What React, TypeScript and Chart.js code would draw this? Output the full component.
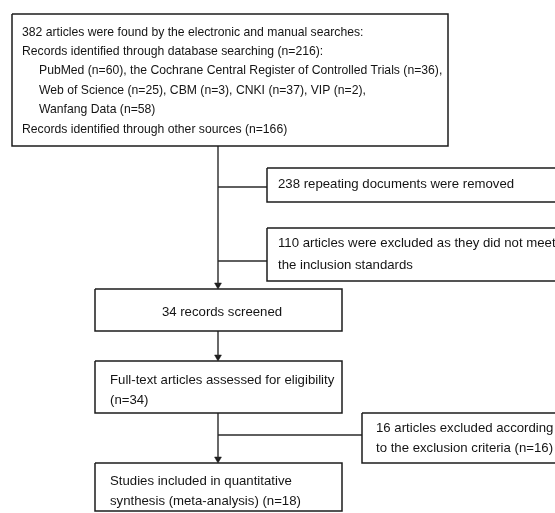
import { useEffect, useRef } from 'react';
import { Chart, registerables } from 'chart.js';

Chart.register(...registerables);

// ---- data (counts and labels) ----
const databases = [
  'PubMed',
  'the Cochrane Central Register of Controlled Trials',
  'Web of Science',
  'CBM',
  'CNKI',
  'VIP',
  'Wanfang Data',
];
const databaseCounts = [60, 36, 25, 3, 37, 2, 58];
const databaseLineGroups = [[0, 1], [2, 3, 4, 5], [6]];

const totalFound = 382;
const databaseTotal = 216;
const otherSources = 166;
const duplicatesRemoved = 238;
const notMeetingStandards = 110;
const screened = 34;
const fullText = 34;
const excludedByCriteria = 16;
const included = 18;

// ---- diagram layout (diagram units == pixels of a 555x513 sheet) ----
const SHEET_W = 555;
const SHEET_H = 513;
const TRUNK_X = 218;
// boxes: [x0, y0, x1, y1]
const boxSearch = [12, 14, 448, 146];
const boxDuplicates = [267, 168, 565, 202];
const boxStandards = [267, 228, 565, 281];
const boxScreened = [95, 289, 342, 331];
const boxFullText = [95, 361, 342, 413];
const boxCriteria = [362, 413, 565, 463];
const boxIncluded = [95, 463, 342, 511];

const LINE_COLOR = '#1c1c1c';
const CONNECTOR_COLOR = '#2a2a2a';
const TEXT_COLOR = '#141414';
const FONT_SMALL = '12.2px "Liberation Sans", Arial, sans-serif';
const FONT_LARGE = '13.2px "Liberation Sans", Arial, sans-serif';
const ARROW_R = 4;

function rectPoints(b: number[]) {
  return [
    { x: b[0], y: b[1] },
    { x: b[2], y: b[1] },
    { x: b[2], y: b[3] },
    { x: b[0], y: b[3] },
    { x: b[0], y: b[1] },
  ];
}

function dbLine(group: number[], last: boolean) {
  const s = group.map((i) => `${databases[i]} (n=${databaseCounts[i]})`).join(', ');
  return last ? s : s + ',';
}

type TextItem = { x: number; y: number; text: string; align: CanvasTextAlign; font: string };

const texts: TextItem[] = [
  { x: 22, y: 32.5, text: `${totalFound} articles were found by the electronic and manual searches:`, align: 'left', font: FONT_SMALL },
  { x: 22, y: 51.8, text: `Records identified through database searching (n=${databaseTotal}):`, align: 'left', font: FONT_SMALL },
  ...databaseLineGroups.map((g, i) => ({
    x: 39,
    y: 71.1 + i * 19.3,
    text: dbLine(g, i === databaseLineGroups.length - 1),
    align: 'left' as CanvasTextAlign,
    font: FONT_SMALL,
  })),
  { x: 22, y: 129.5, text: `Records identified through other sources (n=${otherSources})`, align: 'left', font: FONT_SMALL },
  { x: 278, y: 184.5, text: `${duplicatesRemoved} repeating documents were removed`, align: 'left', font: FONT_LARGE },
  { x: 278, y: 243.5, text: `${notMeetingStandards} articles were excluded as they did not meet`, align: 'left', font: FONT_LARGE },
  { x: 278, y: 265, text: 'the inclusion standards', align: 'left', font: FONT_LARGE },
  { x: 222, y: 312, text: `${screened} records screened`, align: 'center', font: FONT_LARGE },
  { x: 110, y: 380.5, text: 'Full-text articles assessed for eligibility', align: 'left', font: FONT_LARGE },
  { x: 110, y: 400.5, text: `(n=${fullText})`, align: 'left', font: FONT_LARGE },
  { x: 376, y: 428.5, text: `${excludedByCriteria} articles excluded according`, align: 'left', font: FONT_LARGE },
  { x: 376, y: 448.5, text: `to the exclusion criteria (n=${excludedByCriteria})`, align: 'left', font: FONT_LARGE },
  { x: 110, y: 481, text: 'Studies included in quantitative', align: 'left', font: FONT_LARGE },
  { x: 110, y: 501.5, text: `synthesis (meta-analysis) (n=${included})`, align: 'left', font: FONT_LARGE },
];

const connectors = [
  [{ x: TRUNK_X, y: boxSearch[3] }, { x: TRUNK_X, y: boxScreened[1] - ARROW_R }],
  [{ x: TRUNK_X, y: 187 }, { x: boxDuplicates[0], y: 187 }],
  [{ x: TRUNK_X, y: 261 }, { x: boxStandards[0], y: 261 }],
  [{ x: TRUNK_X, y: boxScreened[3] }, { x: TRUNK_X, y: boxFullText[1] - ARROW_R }],
  [{ x: TRUNK_X, y: boxFullText[3] }, { x: TRUNK_X, y: boxIncluded[1] - ARROW_R }],
  [{ x: TRUNK_X, y: 435 }, { x: boxCriteria[0], y: 435 }],
];

const arrowTips = [boxScreened[1], boxFullText[1], boxIncluded[1]].map((y) => ({
  x: TRUNK_X,
  y: y - ARROW_R,
}));

const textPlugin = {
  id: 'flowText',
  afterDatasetsDraw(chart: any) {
    const { ctx, scales } = chart;
    ctx.save();
    ctx.fillStyle = TEXT_COLOR;
    ctx.textBaseline = 'middle';
    for (const t of texts) {
      ctx.font = t.font;
      ctx.textAlign = t.align;
      ctx.fillText(t.text, scales.x.getPixelForValue(t.x), scales.y.getPixelForValue(t.y));
    }
    ctx.restore();
  },
};

export default function App() {
  const ref = useRef<HTMLCanvasElement | null>(null);

  useEffect(() => {
    if (!ref.current) return;
    const boxes = [boxSearch, boxDuplicates, boxStandards, boxScreened, boxFullText, boxCriteria, boxIncluded];
    const lineStyle = {
      showLine: true,
      borderColor: LINE_COLOR,
      borderWidth: 1.5,
      pointRadius: 0,
      pointHoverRadius: 0,
      tension: 0,
      fill: false,
      borderJoinStyle: 'miter' as const,
    };
    const datasets: any[] = [
      ...boxes.map((b) => ({ ...lineStyle, data: rectPoints(b) })),
      ...connectors.map((c) => ({ ...lineStyle, borderColor: CONNECTOR_COLOR, borderWidth: 1.4, data: c })),
      {
        data: arrowTips,
        showLine: false,
        pointStyle: 'triangle',
        rotation: 180,
        pointRadius: ARROW_R,
        pointHoverRadius: ARROW_R,
        backgroundColor: LINE_COLOR,
        borderColor: LINE_COLOR,
        borderWidth: 0.5,
      },
    ];
    const chart = new Chart(ref.current, {
      type: 'scatter',
      data: { datasets },
      options: {
        animation: false,
        responsive: false,
        devicePixelRatio: window.devicePixelRatio || 1,
        layout: { padding: 0, autoPadding: false },
        events: [],
        plugins: { legend: { display: false }, tooltip: { enabled: false } },
        scales: {
          x: { type: 'linear', min: 0, max: SHEET_W, display: false },
          y: { type: 'linear', min: 0, max: SHEET_H, reverse: true, display: false },
        },
      },
      plugins: [textPlugin],
    });
    return () => chart.destroy();
  }, []);

  return (
    <div style={{ position: 'absolute', left: 0, top: 0, width: SHEET_W, height: SHEET_H, background: '#fff' }}>
      <canvas ref={ref} width={SHEET_W} height={SHEET_H} style={{ display: 'block' }} />
    </div>
  );
}
